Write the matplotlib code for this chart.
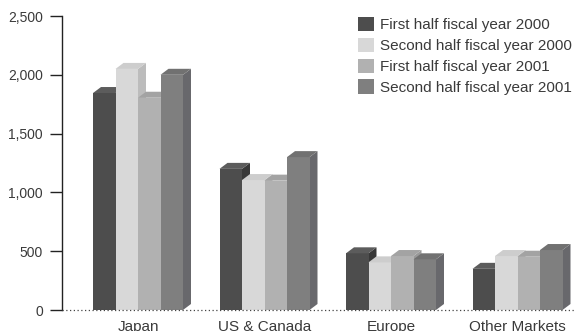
import matplotlib
matplotlib.use("Agg")
import matplotlib.pyplot as plt
from matplotlib.patches import Polygon, Patch
import numpy as np

categories = ["Japan", "US & Canada", "Europe", "Other Markets"]
series_names = ["First half fiscal year 2000", "Second half fiscal year 2000",
                "First half fiscal year 2001", "Second half fiscal year 2001"]
fh2000 = [1845, 1200, 482, 350]
sh2000 = [2050, 1105, 405, 459]
fh2001 = [1805, 1100, 459, 453]
sh2001 = [2000, 1300, 431, 510]
series = [fh2000, sh2000, fh2001, sh2001]
yticks = [0, 500, 1000, 1500, 2000, 2500]
ytick_labels = ["0", "500", "1,000", "1,500", "2,000", "2,500"]

front_colors = ["#4d4d4d", "#d8d8d8", "#b1b1b1", "#7f7f7f"]
top_colors = ["#5c5c5c", "#cdcdcd", "#a3a3a3", "#717171"]
side_colors = ["#383838", "#bcbcbc", "#999999", "#68686c"]
text_color = "#3a3a3a"

plt.rcParams['font.family'] = ['Liberation Sans', 'DejaVu Sans']

W, H = 576, 331
fig = plt.figure(figsize=(W / 100, H / 100), dpi=100)
ax = fig.add_axes([62 / W, 21 / H, (W - 62) / W, (310 - 16) / H])
group_px = 126.5
bar_w = 22.5 / group_px
xl = -76 / group_px
ax.set_xlim(xl, xl + (W - 62) / group_px)
ax.set_ylim(0, 2500)

# pixel -> data conversion for 3D depth
px_x = 1.0 / group_px
px_y = 2500 / (310 - 16)
ddx, ddy = 8 * px_x, 6 * px_y

x = np.arange(len(categories))
for i in range(len(categories)):
    for j, vals in enumerate(series):
        x0 = x[i] + (j - 2) * bar_w
        x1 = x0 + bar_w
        v = vals[i]
        ax.bar(x0, v, width=bar_w, align='edge', color=front_colors[j],
               linewidth=0, zorder=3 + j * 0.01 + i)
        top = Polygon([(x0, v), (x1, v), (x1 + ddx, v + ddy), (x0 + ddx, v + ddy)],
                      closed=True, facecolor=top_colors[j], edgecolor='none',
                      zorder=3 + j * 0.01 + i)
        side = Polygon([(x1, 0), (x1 + ddx, ddy), (x1 + ddx, v + ddy), (x1, v)],
                       closed=True, facecolor=side_colors[j], edgecolor='none',
                       zorder=3 + j * 0.01 - 0.005 + i)
        ax.add_patch(top)
        ax.add_patch(side)

for s in ['top', 'right', 'bottom']:
    ax.spines[s].set_visible(False)
ax.spines['left'].set_color('#222222')
ax.spines['left'].set_linewidth(1.0)
ax.set_yticks(yticks)
ax.set_yticklabels(ytick_labels)
ax.tick_params(axis='y', length=8.6, width=1.0, color='#222222', pad=5,
               labelsize=10, labelcolor=text_color)
ax.set_xticks(x)
ax.set_xticklabels(categories)
ax.tick_params(axis='x', length=0, pad=7.5, labelsize=11, labelcolor=text_color)
ax.axhline(0, color='#444444', linestyle=(0, (1, 2)), linewidth=0.9, zorder=10,
           clip_on=False)

handles = [Patch(facecolor=c, edgecolor='none') for c in front_colors]
leg = fig.legend(handles, series_names, loc='upper left',
                 bbox_to_anchor=(358 / W, 1 - 17 / H), frameon=False,
                 fontsize=11, handlelength=1.05, handleheight=1.05,
                 labelspacing=0.36, handletextpad=0.4, borderpad=0,
                 borderaxespad=0)
for t in leg.get_texts():
    t.set_color(text_color)

fig.savefig("out.png", dpi=100)
